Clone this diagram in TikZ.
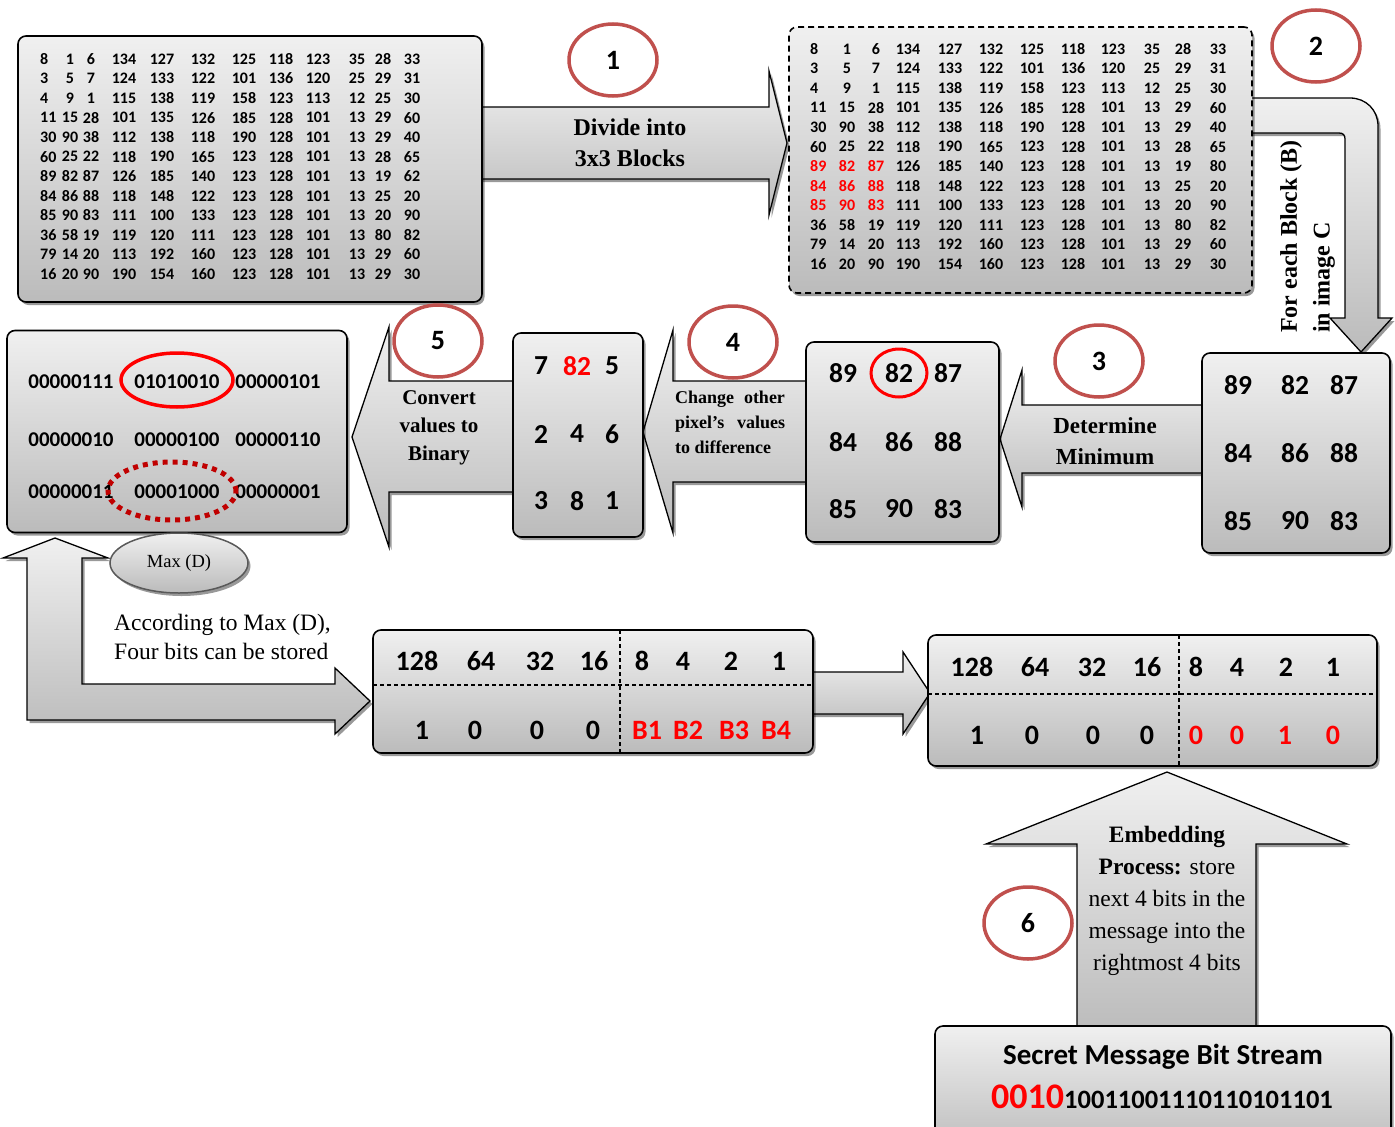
\documentclass[tikz,border=0pt]{standalone}
\usepackage{fontspec}
\setmainfont{Liberation Serif}
\newfontfamily\calib{Carlito}
\usetikzlibrary{shapes.geometric,shadows}
\definecolor{cRed}{HTML}{C0504D}
\definecolor{dRed}{HTML}{C00000}
\definecolor{gTop}{HTML}{F0F0F0}
\definecolor{gBot}{HTML}{BBBBBB}
\tikzset{
  gfill/.style={top color=gTop, bottom color=gBot},
  shad/.style={drop shadow={shadow xshift=2.5pt, shadow yshift=-3pt, opacity=0.4, fill=black}},
  box/.style={draw=black, line width=1.6pt, rounded corners=8pt, gfill, shad, inner sep=0pt},
  barrow/.style={draw=black, line width=1.3pt, line join=miter, gfill, shad},
  numc/.style={ellipse, draw=cRed, line width=3.5pt, minimum width=88pt, minimum height=72pt, inner sep=0pt, font=\calib\bfseries\fontsize{28}{30}\selectfont},
  mtx/.style={inner sep=0pt, font=\calib\bfseries\fontsize{16}{18}\selectfont},
  big/.style={inner sep=0pt, font=\calib\bfseries\fontsize{27.5}{30}\selectfont},
  bits/.style={inner sep=0pt, font=\calib\bfseries\fontsize{28}{30}\selectfont},
  bin/.style={inner sep=0pt, font=\calib\bfseries\fontsize{21}{24}\selectfont},
  lab/.style={inner sep=0pt, align=center, font=\bfseries\fontsize{24}{31}\selectfont},
  dline/.style={line width=1.2pt, dash pattern=on 4pt off 3pt},
}
\begin{document}
\begin{tikzpicture}[x=1pt,y=-1pt]
\useasboundingbox (0,0) rectangle (1395,1127);
\clip (0,0) rectangle (1395,1127);
\fill[white] (0,0) rectangle (1395,1127);

% ---------- block arrows ----------
\draw[barrow] (470,107) -- (769,107) -- (769,71) -- (787,143) -- (769,215) -- (769,179) -- (470,179) -- cycle;
\draw[barrow] (1245,98) -- (1350,98) .. controls (1366,98) and (1378,110) .. (1378,126) -- (1378,318) -- (1392,318) -- (1361,352) -- (1330,318) -- (1345,318) -- (1345,139) .. controls (1345,135) and (1343,133) .. (1339,133) -- (1245,133) -- cycle;
\draw[barrow] (1210,405) -- (1022,405) -- (1022,370) -- (1000,439) -- (1022,507) -- (1022,473) -- (1210,473) -- cycle;
\draw[barrow] (812,381) -- (673,381) -- (673,330) -- (643,432) -- (673,533) -- (673,482) -- (812,482) -- cycle;
\draw[barrow] (520,381) -- (389,381) -- (389,327) -- (352,437) -- (389,547) -- (389,492) -- (520,492) -- cycle;
\draw[barrow] (55,538) -- (108,558) -- (82,558) -- (82,684) -- (335,684) -- (335,668) -- (370,701) -- (335,734) -- (335,720) -- (27,720) -- (27,558) -- (3,558) -- cycle;
\draw[barrow] (805,672) -- (903,672) -- (903,652) -- (930,693) -- (903,734) -- (903,714) -- (805,714) -- cycle;
\draw[barrow] (1077,1035) -- (1077,844) -- (986,844) -- (1167,772) -- (1347,844) -- (1256,844) -- (1256,1035) -- cycle;

% ---------- boxes ----------
\node[box, minimum width=464pt, minimum height=266pt] (A) at (250,169) {};
\node[box, dash pattern=on 6pt off 4pt, minimum width=463pt, minimum height=266pt] (B) at (1020.5,160) {};
\node[box, minimum width=188pt, minimum height=200pt] (C) at (1296,453) {};
\node[box, minimum width=193pt, minimum height=200pt] (D) at (902.5,442) {};
\node[box, minimum width=130pt, minimum height=204pt] (E) at (578,435) {};
\node[box, minimum width=340pt, minimum height=202pt] (F) at (177,431.5) {};
\node[box, minimum width=440pt, minimum height=123pt] (G) at (593,691.5) {};
\node[box, minimum width=449pt, minimum height=131pt] (H) at (1152.5,700.5) {};
\node[box, minimum width=456pt, minimum height=128pt] (I) at (1163,1090) {};

% ---------- matrix A ----------
\def\colsA{{40,70,91,124,162,203,244,281,318,357,383,412}}
\def\colsB{{810,847,876,908,950,991,1032,1073,1113,1152,1183,1218}}
\foreach \r [count=\i] in {
 {8,1,6,134,127,132,125,118,123,35,28,33},
 {3,5,7,124,133,122,101,136,120,25,29,31},
 {4,9,1,115,138,119,158,123,113,12,25,30},
 {11,15,28,101,135,126,185,128,101,13,29,60},
 {30,90,38,112,138,118,190,128,101,13,29,40},
 {60,25,22,118,190,165,123,128,101,13,28,65},
 {89,82,87,126,185,140,123,128,101,13,19,62},
 {84,86,88,118,148,122,123,128,101,13,25,20},
 {85,90,83,111,100,133,123,128,101,13,20,90},
 {36,58,19,119,120,111,123,128,101,13,80,82},
 {79,14,20,113,192,160,123,128,101,13,29,60},
 {16,20,90,190,154,160,123,128,101,13,29,30}} {
  \pgfmathsetmacro\yy{59+(\i-1)*19.55}
  \foreach \v [count=\j] in \r {
    \pgfmathsetmacro\xx{\colsA[\j-1]}
    \ifnum\j=1
      \node[mtx, anchor=west] (a-\i-\j) at (\xx,\yy) {\v};
    \else
      \node[mtx] (a-\i-\j) at (\xx,\yy) {\v};
    \fi
  }
}
% ---------- matrix B ----------
\foreach \r [count=\i] in {
 {8,1,6,134,127,132,125,118,123,35,28,33},
 {3,5,7,124,133,122,101,136,120,25,29,31},
 {4,9,1,115,138,119,158,123,113,12,25,30},
 {11,15,28,101,135,126,185,128,101,13,29,60},
 {30,90,38,112,138,118,190,128,101,13,29,40},
 {60,25,22,118,190,165,123,128,101,13,28,65},
 {89,82,87,126,185,140,123,128,101,13,19,80},
 {84,86,88,118,148,122,123,128,101,13,25,20},
 {85,90,83,111,100,133,123,128,101,13,20,90},
 {36,58,19,119,120,111,123,128,101,13,80,82},
 {79,14,20,113,192,160,123,128,101,13,29,60},
 {16,20,90,190,154,160,123,128,101,13,29,30}} {
  \pgfmathsetmacro\yy{49+(\i-1)*19.55}
  \foreach \v [count=\j] in \r {
    \pgfmathsetmacro\xx{\colsB[\j-1]}
    \pgfmathtruncatemacro\isred{and(and(\i>6,\i<10),\j<4)}
    \ifnum\isred=1 \def\tc{red}\else\def\tc{black}\fi
    \ifnum\j=1
      \node[mtx, anchor=west, text=\tc] (b-\i-\j) at (\xx,\yy) {\v};
    \else
      \node[mtx, text=\tc] (b-\i-\j) at (\xx,\yy) {\v};
    \fi
  }
}

% ---------- 3x3 blocks ----------
\foreach \v/\x/\y [count=\k] in {89/1238/385,82/1295/385,87/1344/385,84/1238/453,86/1295/453,88/1344/453,85/1238/521,90/1295/521,83/1344/521}
  \node[big] (c-\k) at (\x,\y) {\v};
\foreach \v/\x/\y [count=\k] in {89/843/373,82/899/373,87/948/373,84/843/442,86/899/442,88/948/442,85/843/509,90/899/509,83/948/509}
  \node[big] (d-\k) at (\x,\y) {\v};
\foreach \v/\x/\y [count=\k] in {7/541/366,5/612/366,2/541/434,4/577/434,6/612/434,3/541/501,8/577/501,1/612/501}
  \node[big] (e-\k) at (\x,\y) {\v};
\node[big, text=red] (e-82) at (577,366) {82};

% ---------- binary ----------
\foreach \v/\x/\y [count=\k] in {00000111/71/382,01010010/177/382,00000101/278/382,00000010/71/440,00000100/177/440,00000110/278/440,00000011/71/492,00001000/177/492,00000001/278/492}
  \node[bin] (f-\k) at (\x,\y) {\v};

% ---------- bit tables ----------
\foreach \v/\x [count=\k] in {128/417,64/481,32/540,16/594,8/642,4/683,2/731,1/779}
  \node[bits] (gt-\k) at (\x,661) {\v};
\foreach \v/\x [count=\k] in {1/422,0/475,0/537,0/593}
  \node[bits] (gb-\k) at (\x,730) {\v};
\foreach \v/\x [count=\k] in {B1/647,B2/688,B3/734,B4/776}
  \node[bits, text=red] (gr-\k) at (\x,730) {\v};
\draw[dline] (373,685) -- (813,685);
\draw[dline] (620,630) -- (620,753);

\foreach \v/\x [count=\k] in {128/972,64/1035,32/1092,16/1147,8/1196,4/1237,2/1286,1/1333}
  \node[bits] (ht-\k) at (\x,667) {\v};
\foreach \v/\x [count=\k] in {1/977,0/1032,0/1093,0/1147}
  \node[bits] (hb-\k) at (\x,735) {\v};
\foreach \v/\x [count=\k] in {0/1196,0/1237,1/1285,0/1333}
  \node[bits, text=red] (hr-\k) at (\x,735) {\v};
\draw[dline] (928,694) -- (1377,694);
\draw[dline] (1179,635) -- (1179,766);

% ---------- secret message ----------
\node[inner sep=0pt, font=\calib\bfseries\fontsize{29}{30}\selectfont] (I1) at (1163,1057) {Secret Message Bit Stream};
\node[anchor=base west, inner sep=0pt, font=\calib\bfseries] (I2) at (991,1108) {{\color{red}\fontsize{36}{40}\selectfont 0010}{\fontsize{26.5}{28}\selectfont 10011001110110101101}};

% ---------- labels ----------
\node[lab] (t1) at (630,143) {Divide into\\3x3 Blocks};
\node[lab, font=\bfseries\fontsize{23}{31}\selectfont] (t3) at (1105,441) {Determine\\Minimum};
\node[lab, font=\bfseries\fontsize{21}{28}\selectfont] (t5) at (439,428) {Convert\\values to\\Binary};
\node[inner sep=0pt, align=left, font=\bfseries\fontsize{18}{25}\selectfont] (t4) at (730,422) {\makebox[110pt][s]{Change other}\\\makebox[110pt][s]{pixel’s values}\\to difference};
\node[rotate=90, anchor=west, inner sep=0pt, font=\bfseries\fontsize{24}{25}\selectfont] (r1) at (1291,333) {For each Block (B)};
\node[rotate=90, anchor=west, inner sep=0pt, font=\bfseries\fontsize{24}{25}\selectfont] (r2) at (1324,333) {in image C};
\node[inner sep=0pt, align=center, font=\fontsize{23.5}{32}\selectfont] (emb) at (1167,901) {\textbf{Embedding}\\\textbf{Process:} store\\next 4 bits in the\\message into the\\rightmost 4 bits};
\node[anchor=west, align=left, inner sep=0pt, font=\fontsize{23.5}{29}\selectfont] (acc) at (114,637) {According to Max (D),\\Four bits can be stored};

% ---------- highlight ellipses ----------
\node[ellipse, draw=red, line width=3pt, minimum width=56pt, minimum height=48pt] (c82) at (899,373) {};
\node[ellipse, draw=red, line width=3.5pt, minimum width=112pt, minimum height=54pt] (cmin) at (177,380) {};
\node[ellipse, draw=dRed, line width=5pt, dash pattern=on 5pt off 5pt, minimum width=128pt, minimum height=58pt] (cmax) at (172,491) {};
\node[ellipse, draw=gray!70!black, line width=1.5pt, gfill, shad, minimum width=138pt, minimum height=60pt, inner sep=0pt, font=\fontsize{18.5}{20}\selectfont] (maxd) at (179,563) {Max (D)};

% ---------- step numbers ----------
\node[numc] (n1) at (613,60) {1};
\node[numc] (n2) at (1316,46) {2};
\node[numc] (n3) at (1099,361) {3};
\node[numc] (n4) at (733,342) {4};
\node[numc] (n5) at (438,341) {5};
\node[numc] (n6) at (1028,923) {6};
\end{tikzpicture}
\end{document}
